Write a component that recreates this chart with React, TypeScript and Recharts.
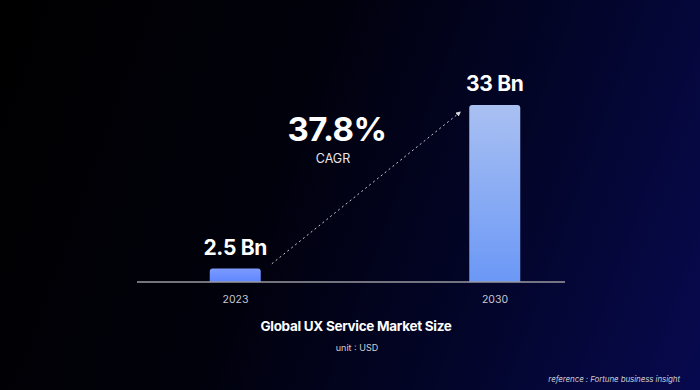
import React from "react";
import {
  BarChart,
  Bar,
  XAxis,
  YAxis,
  LabelList,
  ReferenceLine,
} from "recharts";

const years = [2023, 2030];
const marketSize = [2.5, 33];
const valueLabels = ["2.5 Bn", "33 Bn"];
const cagr = "37.8%";

const data = years.map((year, i) => ({
  year,
  value: marketSize[i],
  label: valueLabels[i],
}));

const font = "Inter, 'Noto Sans', sans-serif";

export default function App() {
  return (
    <div
      style={{
        position: "relative",
        width: 700,
        height: 390,
        fontFamily: font,
        background:
          "linear-gradient(110deg, #000000 0%, #01010c 40%, #03052a 70%, #07094f 100%)",
        overflow: "hidden",
      }}
    >
      <style>{`body{margin:0}`}</style>
      <BarChart
        width={700}
        height={390}
        data={data}
        margin={{ top: 105, right: 135, left: 137, bottom: 78 }}
      >
        <defs>
          <linearGradient id="barSmall" x1="0" y1="0" x2="0" y2="1">
            <stop offset="0%" stopColor="#7c9bff" />
            <stop offset="100%" stopColor="#5f86ff" />
          </linearGradient>
          <linearGradient id="barBig" x1="0" y1="0" x2="0" y2="1">
            <stop offset="0%" stopColor="#a9c0f2" />
            <stop offset="100%" stopColor="#6b98f6" />
          </linearGradient>
          <marker
            id="arrowHead"
            viewBox="0 0 6 6"
            refX="3"
            refY="3"
            markerWidth="5"
            markerHeight="5"
            orient="auto"
          >
            <path d="M0,0 L6,3 L0,6 z" fill="#d8d8e0" />
          </marker>
        </defs>
        <XAxis
          dataKey="year"
          type="number"
          domain={[2020.343, 2031.888]}
          ticks={years}
          tick={{ fontSize: 10.5, fill: "#c8c8d0", fontFamily: font }}
          tickLine={false}
          axisLine={{ stroke: "#9a9aa2", strokeWidth: 1.5 }}
          tickMargin={8}
          height={30}
        />
        <YAxis hide domain={[0, 33]} />
        <ReferenceLine
          segment={[
            { x: 2023.98, y: 3.4 },
            { x: 2029.03, y: 31.5 },
          ]}
          stroke="#c8c8d2"
          strokeDasharray="2 3"
          strokeWidth={1}
          ifOverflow="visible"
          markerEnd="url(#arrowHead)"
        />
        <Bar
          dataKey="value"
          barSize={51}
          isAnimationActive={false}
          shape={(props: any) => {
            const { x, y, width, height, index } = props;
            const r = 3;
            const fill = index === 0 ? "url(#barSmall)" : "url(#barBig)";
            return (
              <path
                d={`M${x},${y + height} L${x},${y + r} Q${x},${y} ${x + r},${y} L${x + width - r},${y} Q${x + width},${y} ${x + width},${y + r} L${x + width},${y + height} Z`}
                fill={fill}
              />
            );
          }}
        >
          <LabelList
            dataKey="label"
            position="top"
            offset={14}
            style={{
              fill: "#ffffff",
              fontSize: 21,
              fontWeight: 700,
              fontFamily: font,
              letterSpacing: -0.3,
            }}
          />
        </Bar>
      </BarChart>

      <div
        style={{
          position: "absolute",
          left: 237,
          width: 200,
          top: 110,
          textAlign: "center",
          color: "#fff",
          fontSize: 33,
          fontWeight: 700,
          lineHeight: "38px",
          letterSpacing: -0.5,
        }}
      >
        {cagr}
      </div>
      <div
        style={{
          position: "absolute",
          left: 283,
          width: 100,
          top: 151,
          textAlign: "center",
          color: "#e6e6ea",
          fontSize: 12.5,
          lineHeight: "16px",
        }}
      >
        CAGR
      </div>
      <div
        style={{
          position: "absolute",
          left: 6,
          width: 700,
          top: 317,
          textAlign: "center",
          color: "#fff",
          fontSize: 13.5,
          fontWeight: 700,
          lineHeight: "18px",
          letterSpacing: -0.3,
        }}
      >
        Global UX Service Market Size
      </div>
      <div
        style={{
          position: "absolute",
          left: 7,
          width: 700,
          top: 342,
          textAlign: "center",
          color: "#d0d0d6",
          fontSize: 9,
          lineHeight: "12px",
        }}
      >
        unit : USD
      </div>
      <div
        style={{
          position: "absolute",
          right: 20,
          top: 373,
          color: "#c8c8d0",
          fontSize: 8,
          fontStyle: "italic",
          lineHeight: "12px",
          letterSpacing: -0.1,
        }}
      >
        reference : Fortune business insight
      </div>
    </div>
  );
}
